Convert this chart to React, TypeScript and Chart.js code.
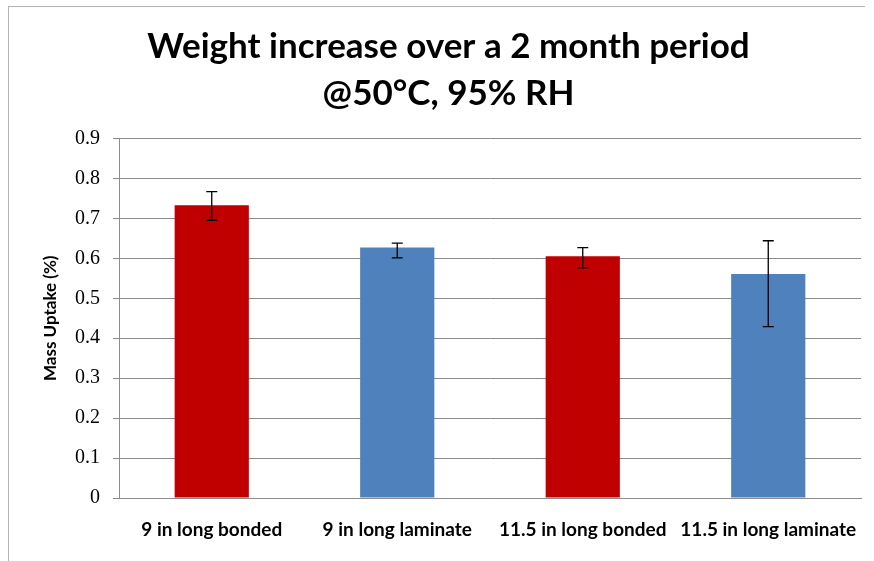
import React, { useEffect, useRef } from "react";
import { Chart, registerables } from "chart.js";

Chart.register(...registerables);

const categories = [
  "9 in long bonded",
  "9 in long laminate",
  "11.5 in long bonded",
  "11.5 in long laminate",
];
const massUptake = [0.733, 0.627, 0.605, 0.561];
const errorPlus = [0.034, 0.011, 0.022, 0.083];
const errorMinus = [0.038, 0.026, 0.029, 0.132];
const barColors = ["#C00000", "#4F81BD", "#C00000", "#4F81BD"];
const yTicks = [0, 0.1, 0.2, 0.3, 0.4, 0.5, 0.6, 0.7, 0.8, 0.9];
const titleLines = ["Weight increase over a 2 month period", "@50°C, 95% RH"];
const yTitle = "Mass Uptake (%)";

const errorBarPlugin = {
  id: "errorBars",
  afterDatasetsDraw(chart: any) {
    const ctx = chart.ctx;
    const meta = chart.getDatasetMeta(0);
    const y = chart.scales.y;
    ctx.save();
    ctx.strokeStyle = "#000000";
    ctx.lineWidth = 1.3;
    meta.data.forEach((bar: any, i: number) => {
      const x = bar.x;
      const top = y.getPixelForValue(massUptake[i] + errorPlus[i]);
      const bot = y.getPixelForValue(massUptake[i] - errorMinus[i]);
      const cap = 5.5;
      ctx.beginPath();
      ctx.moveTo(x, top);
      ctx.lineTo(x, bot);
      ctx.moveTo(x - cap, top);
      ctx.lineTo(x + cap, top);
      ctx.moveTo(x - cap, bot);
      ctx.lineTo(x + cap, bot);
      ctx.stroke();
    });
    ctx.restore();
  },
};

export default function App() {
  const ref = useRef<HTMLCanvasElement | null>(null);
  useEffect(() => {
    if (!ref.current) return;
    const chart = new Chart(ref.current, {
      type: "bar",
      data: {
        labels: categories,
        datasets: [
          {
            data: massUptake,
            backgroundColor: barColors,
            borderWidth: 0,
            barPercentage: 0.4,
            categoryPercentage: 1,
          },
        ],
      },
      options: {
        animation: false,
        responsive: false,
        maintainAspectRatio: false,
        layout: { padding: { left: 36, right: 13, top: 0, bottom: 0 } },
        plugins: {
          legend: { display: false },
          tooltip: { enabled: false },
          title: {
            display: true,
            text: titleLines,
            color: "#000000",
            font: { family: "Lato", size: 35, weight: "bold", lineHeight: 1.35 },
            padding: { top: 23, bottom: 21 },
          },
        },
        scales: {
          x: {
            grid: { display: false, drawTicks: false },
            border: { display: true, color: "#8c8c8c", width: 1 },
            ticks: {
              color: "#000000",
              font: { family: "Lato", size: 19, weight: "bold" },
              padding: 20,
              maxRotation: 0,
              autoSkip: false,
            },
            afterFit: (s: any) => {
              s.height = 63;
              s.paddingLeft = 0;
              s.paddingRight = 0;
            },
          },
          y: {
            min: 0,
            max: 0.9,
            afterBuildTicks: (s: any) => {
              s.ticks = yTicks.map((v) => ({ value: v }));
            },
            afterFit: (s: any) => {
              s.width = 83;
              s.paddingTop = 0;
              s.paddingBottom = 0;
            },
            grid: { color: "#8c8c8c", lineWidth: 1, tickLength: 6 },
            border: { display: true, color: "#8c8c8c", width: 1 },
            ticks: {
              color: "#000000",
              font: { family: "Liberation Serif", size: 20 },
              padding: 13,
              callback: (v: any) => String(Math.round(Number(v) * 10) / 10),
            },
            title: {
              display: true,
              text: yTitle,
              color: "#000000",
              font: { family: "Lato", size: 17, weight: "bold" },
              padding: { top: 4, bottom: 0 },
            },
          },
        },
      },
      plugins: [errorBarPlugin],
    });
    return () => chart.destroy();
  }, []);

  return (
    <div
      style={{
        position: "fixed",
        left: 0,
        top: 0,
        width: 874,
        height: 561,
        overflow: "hidden",
        background: "#ffffff",
      }}
    >
      <div
        style={{
          position: "absolute",
          left: 8,
          top: 6,
          width: 856,
          height: 620,
          borderLeft: "1px solid #b4b4b4",
          borderTop: "1px solid #b4b4b4",
        }}
      />
      <canvas ref={ref} width={874} height={561} style={{ position: "absolute", left: 0, top: 0 }} />
    </div>
  );
}
